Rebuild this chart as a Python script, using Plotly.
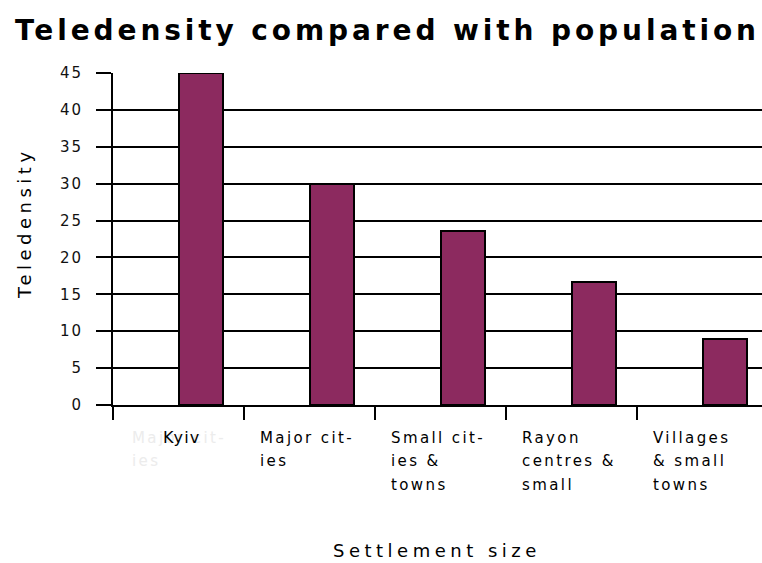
import plotly.graph_objects as go

categories = ["Kyiv", "Major cities", "Small cities & towns", "Rayon centres & small", "Villages & small towns"]
teledensity = [45, 30, 23.6, 16.7, 8.9]
label_lines = [
    ["Kyiv"],
    ["Major cit-", "ies"],
    ["Small cit-", "ies &", "towns"],
    ["Rayon", "centres &", "small"],
    ["Villages", "& small", "towns"],
]
ghost_lines = ["Major cit-", "ies"]
y_ticks = [0, 5, 10, 15, 20, 25, 30, 35, 40, 45]

W, H = 762, 563
L, R, T, B = 113, 0, 73, 158
plot_w = W - L - R
plot_h = H - T - B
cat_px = 131.0
x0 = -0.5
x1 = x0 + plot_w / cat_px

def py(px):  # pixel y -> paper y
    return (H - B - px) / plot_h

def px_x(px):  # pixel x -> paper x
    return (px - L) / plot_w

def sp(text, s):
    return '<span style="letter-spacing:%spx">%s</span>' % (s, text)

FONT = "DejaVu Sans, Verdana, sans-serif"
bar_color = "#8C2A5F"

fig = go.Figure()
fig.add_trace(go.Bar(
    x=categories, y=teledensity,
    width=44 / cat_px, offset=0,
    marker=dict(color=bar_color, line=dict(color="black", width=2)),
    showlegend=False,
))

annotations = []
line_y = [438, 461, 485]
# faint ghost label under Kyiv
for j, t in enumerate(ghost_lines):
    annotations.append(dict(
        x=-0.5 + 17 / cat_px, y=py(line_y[j]), xref="x", yref="paper",
        text=sp(t, 2.4), showarrow=False, xanchor="left", yanchor="middle",
        font=dict(family=FONT, size=15, color="#ececec"),
    ))
for i, lines in enumerate(label_lines):
    for j, t in enumerate(lines):
        if i == 0:
            annotations.append(dict(
                x=categories[i], xshift=3, y=py(line_y[j]), xref="x", yref="paper",
                text=sp(t, 1.2), showarrow=False, xanchor="center", yanchor="middle",
                font=dict(family=FONT, size=16, color="black"),
            ))
        else:
            annotations.append(dict(
                x=i - 0.5 + 14 / cat_px, y=py(line_y[j]), xref="x", yref="paper",
                text=sp(t, 2.4), showarrow=False, xanchor="left", yanchor="middle",
                font=dict(family=FONT, size=15, color="black"),
            ))

annotations.append(dict(
    x=px_x(437), y=py(550), xref="paper", yref="paper", text=sp("Settlement size", 4.5),
    showarrow=False, xanchor="center", yanchor="middle",
    font=dict(family=FONT, size=18, color="black"),
))
annotations.append(dict(
    x=px_x(25), y=py(223), xref="paper", yref="paper", text=sp("Teledensity", 4.5),
    textangle=-90, showarrow=False, xanchor="center", yanchor="middle",
    font=dict(family=FONT, size=18, color="black"),
))

fig.update_layout(
    width=W, height=H,
    margin=dict(l=L, r=R, t=T, b=B, pad=0),
    paper_bgcolor="white", plot_bgcolor="white",
    title=dict(
        text="<b>" + sp("Teledensity compared with population", 3.9) + "</b>",
        x=15 / W, xanchor="left", xref="container",
        y=1 - 30 / H, yanchor="middle", yref="container",
        font=dict(family=FONT, size=28, color="black"),
    ),
    xaxis=dict(
        type="category", range=[x0, x1],
        showline=True, linecolor="black", linewidth=2,
        ticks="outside", tickson="boundaries", ticklen=13, tickwidth=2, tickcolor="black",
        showticklabels=False, showgrid=False, zeroline=False, fixedrange=True,
    ),
    yaxis=dict(
        range=[0, 45], tickvals=y_ticks,
        ticktext=[sp(str(v), 2) for v in y_ticks],
        showline=True, linecolor="black", linewidth=2,
        ticks="outside", ticklen=15, tickwidth=2, tickcolor="black",
        showgrid=True, gridcolor="black", gridwidth=2, zeroline=False,
        tickfont=dict(family=FONT, size=15, color="#111"),
        ticklabelstandoff=10,
    ),
    annotations=annotations,
    bargap=0,
)

fig.write_html("out.html")
